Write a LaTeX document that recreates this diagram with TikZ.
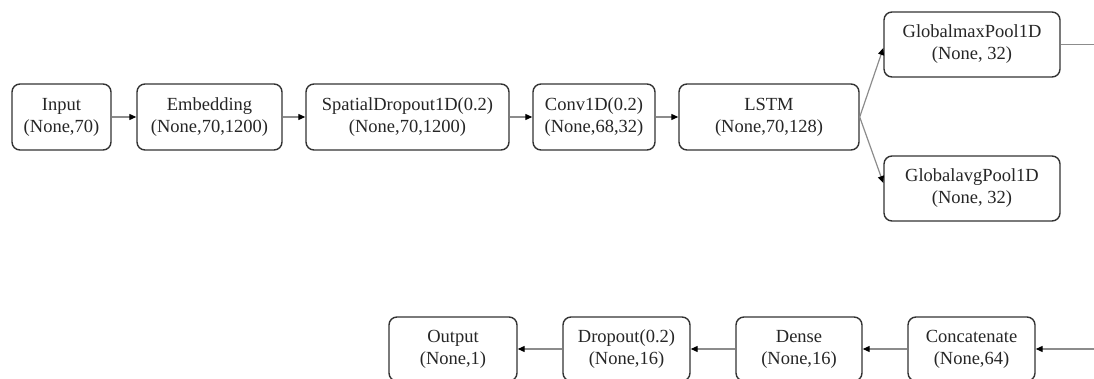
\documentclass[tikz,border=0pt]{standalone}
\usepackage{fontspec}
\setmainfont{Liberation Serif}
\usetikzlibrary{arrows.meta}
\begin{document}
\begin{tikzpicture}[x=1pt,y=-1pt,
  layer/.style={draw=black!80, line width=1.4pt, rounded corners=8pt, fill=white,
    align=center, inner sep=0pt, minimum height=66pt,
    font=\fontsize{18.5}{22}\selectfont, text=black!85},
  conn/.style={draw=black!45, line width=1.2pt, -{Triangle[length=7pt,width=6pt,fill=black,color=black]}},
  plain/.style={draw=black!45, line width=1.2pt}]
\useasboundingbox (0,0) rectangle (1094,379);
\clip (0,0) rectangle (1094,379);
\node[layer, minimum width=99pt] (in) at (61.5,117) {Input\\(None,70)};
\node[layer, minimum width=145pt] (emb) at (209.5,117) {Embedding\\(None,70,1200)};
\node[layer, minimum width=203pt] (sd) at (407.5,117) {SpatialDropout1D(0.2)\\(None,70,1200)};
\node[layer, minimum width=122pt] (conv) at (594,117) {Conv1D(0.2)\\(None,68,32)};
\node[layer, minimum width=180pt] (lstm) at (769,117) {LSTM\\(None,70,128)};
\node[layer, minimum width=176pt, minimum height=65pt] (mx) at (972,44.5) {GlobalmaxPool1D\\(None, 32)};
\node[layer, minimum width=176pt, minimum height=65pt] (avg) at (972,188.5) {GlobalavgPool1D\\(None, 32)};
\node[layer, minimum width=128pt, minimum height=64pt] (out) at (453,349) {Output\\(None,1)};
\node[layer, minimum width=127pt, minimum height=64pt] (dp) at (626.5,349) {Dropout(0.2)\\(None,16)};
\node[layer, minimum width=126pt, minimum height=64pt] (den) at (799,349) {Dense\\(None,16)};
\node[layer, minimum width=127pt, minimum height=64pt] (cat) at (971.5,349) {Concatenate\\(None,64)};
\coordinate (r1) at (1094,44.5);
\coordinate (r2) at (1094,349);
\draw[conn] (in) -- (emb);
\draw[conn] (emb) -- (sd);
\draw[conn] (sd) -- (conv);
\draw[conn] (conv) -- (lstm);
\draw[conn] (lstm.east) -- ([yshift=-3.5pt]mx.west);
\draw[conn] (lstm.east) -- ([yshift=5.5pt]avg.west);
\draw[plain] (mx.east) -- (r1);
\draw[conn] (r2) -- (cat.east);
\draw[conn] (cat) -- (den);
\draw[conn] (den) -- (dp);
\draw[conn] (dp) -- (out);
\end{tikzpicture}
\end{document}
